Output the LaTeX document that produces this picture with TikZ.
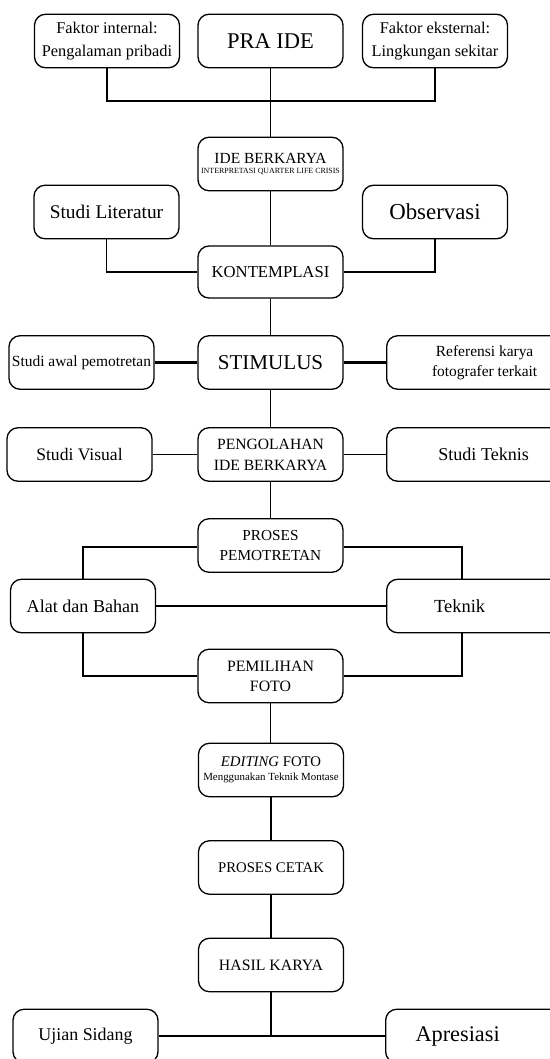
\documentclass[tikz,border=0pt]{standalone}
\usepackage{fontspec}
\setmainfont{Liberation Serif}
\newcommand{\fsz}[2]{\fontsize{#1}{#2}\selectfont}
\newcommand{\padr}{\rule{1.5cm}{0pt}}
\begin{document}
\begin{tikzpicture}[x=0.02cm,y=-0.02cm,
  box/.style={draw, line width=0.75pt, rounded corners=0.22cm, minimum width=2.9cm, minimum height=1.07cm, align=center, inner sep=1pt},
  rbox/.style={draw, line width=0.75pt, rounded corners=0.22cm, minimum height=1.07cm, anchor=west, inner xsep=0pt, inner ysep=1pt},
  thinline/.style={line width=0.75pt},
  midline/.style={line width=1.1pt},
  thickline/.style={line width=1.45pt}]
\useasboundingbox (0,0) rectangle (550,1059);
\clip (0,0) rectangle (550,1059);

% top row
\node[box,font=\fsz{9.3}{13}] (internal) at (107,41) {Faktor internal:\\Pengalaman pribadi};
\node[box,font=\fsz{12.8}{15}] (praide) at (270.5,41) {PRA IDE};
\node[box,font=\fsz{9.3}{13}] (eksternal) at (435,41) {Faktor eksternal:\\Lingkungan sekitar};
\node[box,font=\fsz{8.8}{10}] (ide) at (270.5,164) {IDE BERKARYA\\[-4.2pt]{\fsz{4.5}{5}INTERPRETASI QUARTER LIFE CRISIS}};

% kontemplasi row
\node[box,font=\fsz{11}{13}] (literatur) at (106.5,212) {Studi Literatur};
\node[box,font=\fsz{13}{15}] (observasi) at (435,212) {Observasi};
\node[box,minimum height=1.04cm,font=\fsz{9.5}{11}] (kontemplasi) at (270.5,272) {KONTEMPLASI};

% stimulus row
\node[box,font=\fsz{8.8}{11}] (awal) at (81.5,362.5) {Studi awal pemotretan};
\node[box,font=\fsz{12}{14}] (stimulus) at (270.5,362.5) {STIMULUS};
\node[rbox,font=\fsz{8.8}{11.7}] (referensi) at (386,362.5) {\makebox[3.92cm]{\begin{tabular}{@{}c@{}}Referensi karya\\fotografer terkait\end{tabular}}\padr};

% pengolahan row
\node[box,font=\fsz{10}{12}] (visual) at (79.5,454.5) {Studi Visual};
\node[box,font=\fsz{8.9}{11.9}] (pengolahan) at (270.5,454.5) {PENGOLAHAN\\IDE BERKARYA};
\node[rbox,font=\fsz{10.3}{12}] (teknis) at (386,454.5) {\makebox[3.88cm]{Studi Teknis}\padr};

% pemotretan
\node[box,font=\fsz{8.7}{11.3}] (proses) at (270.5,545.5) {PROSES\\PEMOTRETAN};
\node[box,font=\fsz{10.3}{12}] (alat) at (83,606) {Alat dan Bahan};
\node[rbox,font=\fsz{10.5}{12}] (teknik) at (386,606) {\makebox[2.92cm]{Teknik}\padr};
\node[box,font=\fsz{9}{11.3}] (pemilihan) at (270.5,676) {PEMILIHAN\\FOTO};

% lower column
\node[box,font=\fsz{8.4}{10}] (editing) at (271,770) {\textit{EDITING} FOTO\\[-2.3pt]{\fsz{6.2}{7.7}Menggunakan Teknik Montase}};
\node[box,font=\fsz{8.4}{10}] (cetak) at (271,867.5) {PROSES CETAK};
\node[box,font=\fsz{9}{11}] (hasil) at (271,965) {HASIL KARYA};
\node[box,font=\fsz{10.2}{12}] (ujian) at (85.5,1036) {Ujian Sidang};
\node[rbox,font=\fsz{12.7}{14}] (apresiasi) at (385,1036) {\makebox[2.88cm]{Apresiasi}\padr};

% connectors
\coordinate (j1) at (270.5,101);
\draw[thickline] (internal.south) |- (j1) -| (eksternal.south);
\draw[thinline] (praide.south) -- (ide.north);
\draw[thinline] (ide.south) -- (kontemplasi.north);
\draw[midline] (literatur.south) |- (kontemplasi.west);
\draw[midline] (observasi.south) |- (kontemplasi.east);
\draw[thinline] (kontemplasi.south) -- (stimulus.north);
\draw[thickline] (awal.east) -- (stimulus.west);
\draw[thickline] (stimulus.east) -- (referensi.west);
\draw[thinline] (stimulus.south) -- (pengolahan.north);
\draw[midline] (visual.east) -- (pengolahan.west);
\draw[midline] (pengolahan.east) -- (teknis.west);
\draw[thinline] (pengolahan.south) -- (proses.north);
\draw[midline] ([yshift=-0.03cm]proses.west) -| (alat.north);
\draw[midline] ([yshift=-0.03cm]proses.east) -| ([xshift=1.52cm]teknik.north west);
\draw[thickline] (alat.east) -- (teknik.west);
\draw[midline] (alat.south) |- (pemilihan.west);
\draw[midline] ([xshift=1.52cm]teknik.south west) |- (pemilihan.east);
\draw[thinline] (pemilihan.south) -- (pemilihan.south |- editing.north);
\draw[thinline] (editing.south) -- (cetak.north);
\draw[thinline] (cetak.south) -- (hasil.north);
\coordinate (j2) at (271,1035);
\draw[thinline] (hasil.south) -- (j2);
\draw[thickline] (ujian.east) -- (apresiasi.west);
\end{tikzpicture}
\end{document}
